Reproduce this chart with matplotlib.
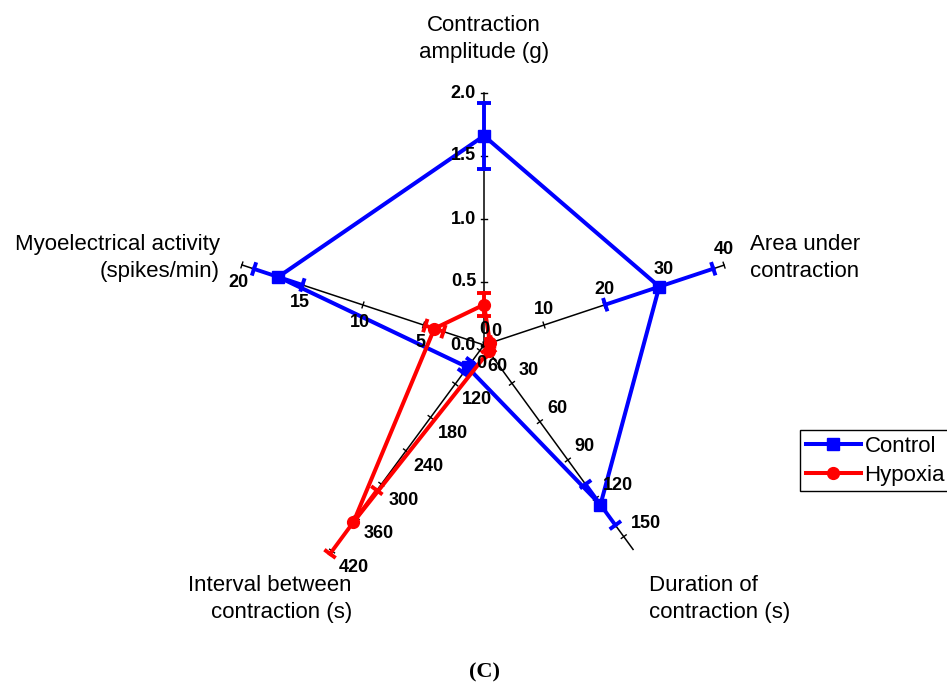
import numpy as np
import matplotlib
matplotlib.use("Agg")
import matplotlib.pyplot as plt

plt.rcParams['font.family'] = ['Liberation Sans', 'DejaVu Sans']

# axes of the radar, clockwise from the top
axis_titles = ["Contraction\namplitude (g)", "Area under\ncontraction",
               "Duration of\ncontraction (s)", "Interval between\ncontraction (s)",
               "Myoelectrical activity\n(spikes/min)"]
axis_min = [0, 0, 0, 50, 0]
axis_max = [2.0, 40, 160, 420, 20]
axis_ticks = [[0.0, 0.5, 1.0, 1.5, 2.0],
              [0, 10, 20, 30, 40],
              [0, 30, 60, 90, 120, 150],
              [60, 120, 180, 240, 300, 360, 420],
              [0, 5, 10, 15, 20]]

control_mean = [1.66, 29.2, 125, 90, 17.0]
control_err = [0.26, 9.0, 16, 10, 2.0]
hypoxia_mean = [0.32, 1.0, 5, 368, 4.1]
hypoxia_err = [0.09, 0.4, 2, 57, 0.75]

# geometry (pixel units, image coords with y down)
cx, cy = 484, 345
angles = [90, 18.4, -53.9, -126.4, 161.7]
lengths = [252, 253, 253, 256, 255]
lab_off = [(-8, 0, 'right'), (0, -16, 'center'), (7, -13, 'left'),
           (7, 16, 'left'), (-3, 18, 'center')]
title_pos = [(484, 39, 'center'), (750, 258, 'left'), (649, 599, 'left'),
             (352, 599, 'right'), (220, 258, 'right')]


def direction(i):
    a = np.deg2rad(angles[i])
    return np.cos(a), -np.sin(a)


def pos(i, v):
    ux, uy = direction(i)
    r = (v - axis_min[i]) / (axis_max[i] - axis_min[i]) * lengths[i]
    return cx + r * ux, cy + r * uy


fig = plt.figure(figsize=(9.47, 6.84), dpi=100)
ax = fig.add_axes([0, 0, 1, 1])
ax.set_xlim(0, 947)
ax.set_ylim(684, 0)
ax.axis('off')

# black axes with small ticks
for i in range(5):
    x0, y0 = pos(i, axis_min[i])
    x1, y1 = pos(i, axis_max[i])
    ax.plot([x0, x1], [y0, y1], color='black', lw=1.1, zorder=1)
    ux, uy = direction(i)
    px, py = -uy, ux
    for t in axis_ticks[i]:
        tx, ty = pos(i, t)
        ax.plot([tx - 3 * px, tx + 3 * px], [ty - 3 * py, ty + 3 * py],
                color='black', lw=1.0, zorder=1)
        s = "%.1f" % t if i == 0 else "%d" % t
        dx, dy, ha = lab_off[i]
        ax.text(tx + dx, ty + dy, s, ha=ha, va='center', fontsize=13,
                fontweight='bold', zorder=5)
    tx, ty, ha = title_pos[i]
    ax.text(tx, ty, axis_titles[i], ha=ha, va='center', multialignment=ha,
            fontsize=16, linespacing=1.4)


def draw_series(mean, err, color, marker, label, z):
    pts = [pos(i, mean[i]) for i in range(5)]
    xs = [p[0] for p in pts] + [pts[0][0]]
    ys = [p[1] for p in pts] + [pts[0][1]]
    ax.plot(xs, ys, color=color, lw=2.9, zorder=z)
    for i in range(5):
        ux, uy = direction(i)
        px, py = -uy, ux
        lo = pos(i, mean[i] - err[i])
        hi = pos(i, mean[i] + err[i])
        ax.plot([lo[0], hi[0]], [lo[1], hi[1]], color=color, lw=2.8, zorder=z)
        for ex, ey in (lo, hi):
            ax.plot([ex - 7 * px, ex + 7 * px], [ey - 7 * py, ey + 7 * py],
                    color=color, lw=2.8, solid_capstyle='butt', zorder=z)
    ax.plot(xs[:-1], ys[:-1], ls='none', marker=marker, ms=8.5, color=color,
            zorder=z + 0.5)
    ax.plot([], [], color=color, lw=2.9, marker=marker, ms=8.5, label=label)


draw_series(control_mean, control_err, 'blue', 's', 'Control', 3)
draw_series(hypoxia_mean, hypoxia_err, 'red', 'o', 'Hypoxia', 4)

leg = ax.legend(loc='upper left', bbox_to_anchor=(800 / 947, 1 - 430 / 684),
                bbox_transform=fig.transFigure, borderaxespad=0, fontsize=16,
                frameon=True, fancybox=False, edgecolor='black', framealpha=1,
                handlelength=2.5, handletextpad=0.15, borderpad=0.25,
                labelspacing=0.36)
leg.get_frame().set_linewidth(1.0)

ax.text(484, 672, "(C)", ha='center', va='center', fontsize=16,
        family='Liberation Serif', fontweight='bold')

fig.savefig("out.png", dpi=100)
